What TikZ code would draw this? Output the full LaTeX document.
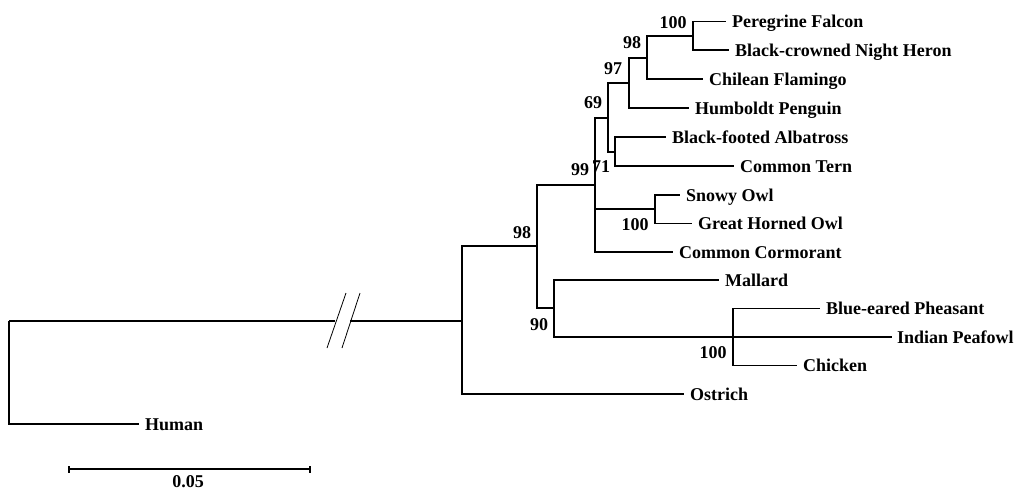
\documentclass[tikz,border=0pt]{standalone}
\usepackage{fontspec}
\setmainfont{Liberation Serif}
\begin{document}
\begin{tikzpicture}[x=1pt,y=-1pt,
  branch/.style={line width=1.2pt, line join=miter},
  leaf/.style={anchor=west, inner xsep=6pt, inner ysep=0pt, text height=12.5pt, text depth=0pt,
               font=\fontsize{18}{20}\selectfont\bfseries},
  boot/.style={inner sep=0pt, font=\fontsize{18}{20}\selectfont\bfseries},
  brk/.style={line width=0.8pt}]
\useasboundingbox (0,0) rectangle (1015,491);

% internal nodes (x of vertical line, y of stem)
\coordinate (nRoot) at (9,321);
\coordinate (brkL)  at (335,321);
\coordinate (brkR)  at (350,321);
\coordinate (nAves) at (462,321);
\coordinate (n98b)  at (537,246);
\coordinate (n99)   at (595,185);
\coordinate (n69)   at (608,118);
\coordinate (n97)   at (629,83);
\coordinate (n98a)  at (647,58);
\coordinate (n100a) at (693,36);
\coordinate (nAT)   at (615,152);
\coordinate (nOwl)  at (655,209);
\coordinate (n90)   at (554,308);
\coordinate (nGal)  at (733,337);

% leaves
\node[leaf] (pf)   at (726,21.5)  {Peregrine Falcon};
\node[leaf] (bnh)  at (729,50)    {Black-crowned Night Heron};
\node[leaf] (cf)   at (703,79)    {Chilean Flamingo};
\node[leaf] (hp)   at (689,108)   {Humboldt Penguin};
\node[leaf] (bfa)  at (666,137)   {Black-footed Albatross};
\node[leaf] (ct)   at (734,166)   {Common Tern};
\node[leaf] (so)   at (680,195)   {Snowy Owl};
\node[leaf] (gho)  at (692,223.5) {Great Horned Owl};
\node[leaf] (cc)   at (673,252)   {Common Cormorant};
\node[leaf] (ma)   at (719,280)   {Mallard};
\node[leaf] (bep)  at (820,308.5) {Blue-eared Pheasant};
\node[leaf, inner xsep=5pt] (ip)   at (892,337)   {Indian Peafowl};
\node[leaf] (ch)   at (797,365.5) {Chicken};
\node[leaf] (os)   at (684,394)   {Ostrich};
\node[leaf] (hu)   at (139,424)   {Human};

% branches
\draw[branch] (nRoot) -- (brkL);
\draw[branch] (brkR) -- (nAves);
\draw[branch] (nRoot) |- (hu.west);
\draw[branch] (nAves) |- (n98b);
\draw[branch] (nAves) |- (os.west);
\draw[branch] (n98b) |- (n99);
\draw[branch] (n98b) |- (n90);
\draw[branch] (n99) |- (n69);
\draw[branch] (n99) |- (nOwl);
\draw[branch] (n99) |- (cc.west);
\draw[branch] (n69) |- (n97);
\draw[branch] (n69) |- (nAT);
\draw[branch] (n97) |- (n98a);
\draw[branch] (n97) |- (hp.west);
\draw[branch] (n98a) |- (n100a);
\draw[branch] (n98a) |- (cf.west);
\draw[branch] (n100a) |- (pf.west);
\draw[branch] (n100a) |- (bnh.west);
\draw[branch] (nAT) |- (bfa.west);
\draw[branch] (nAT) |- (ct.west);
\draw[branch] (nOwl) |- (so.west);
\draw[branch] (nOwl) |- (gho.west);
\draw[branch] (n90) |- (ma.west);
\draw[branch] (n90) |- (nGal);
\draw[branch] (nGal) |- (bep.west);
\draw[branch] (nGal) -- (ip.west);
\draw[branch] (nGal) |- (ch.west);

% break marks
\draw[brk] (327,348) -- (346,293);
\draw[brk] (342,348) -- (360,293);

% bootstrap values
\node[boot] (b100a) at (673,23)  {100};
\node[boot] (b98a)  at (632,43)  {98};
\node[boot] (b97)   at (613,69)  {97};
\node[boot] (b69)   at (593,103) {69};
\node[boot] (b99)   at (580,170) {99};
\node[boot] (b71)   at (601,167) {71};
\node[boot] (b100o) at (635,225) {100};
\node[boot] (b98b)  at (522,233) {98};
\node[boot] (b90)   at (539,325) {90};
\node[boot] (b100g) at (713,353) {100};

% scale bar
\coordinate (sbL) at (69,469);
\coordinate (sbR) at (310,469);
\draw[branch] (sbL) -- (sbR);
\draw[branch] ([yshift=-3.5pt]sbL) -- ([yshift=3.5pt]sbL);
\draw[branch] ([yshift=-3.5pt]sbR) -- ([yshift=3.5pt]sbR);
\node[boot] (sblab) at (188,482) {0.05};
\end{tikzpicture}
\end{document}
